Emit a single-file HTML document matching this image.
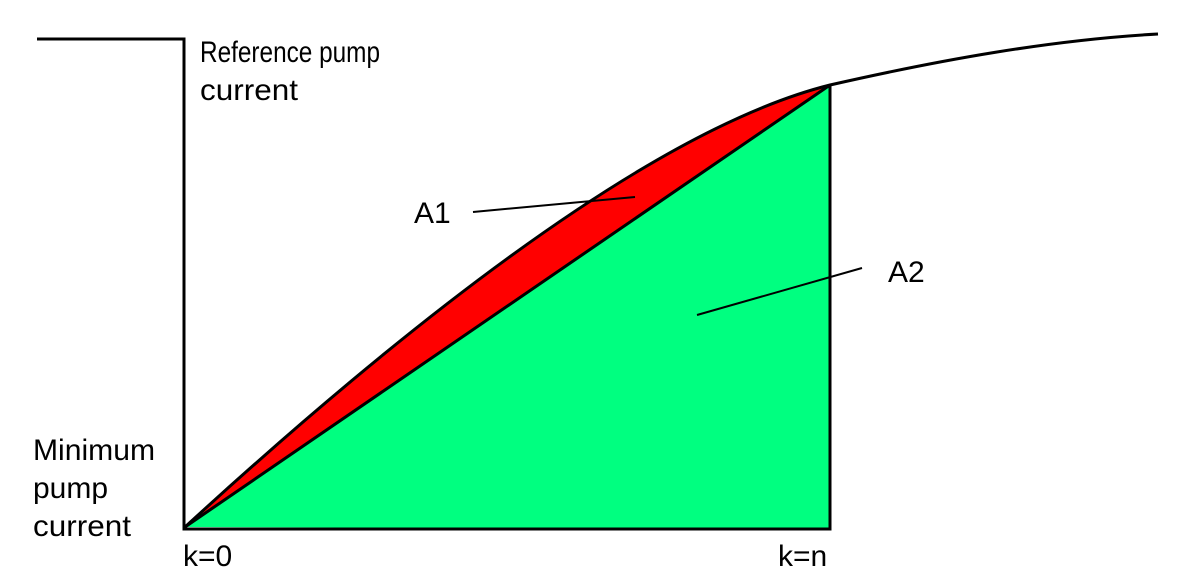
<!DOCTYPE html>
<html><head><style>html,body{margin:0;padding:0;background:#fff;}svg{display:block}</style></head>
<body>
<svg width="1178" height="584" viewBox="0 0 1178 584" xmlns="http://www.w3.org/2000/svg" font-family="Liberation Sans, Arial, sans-serif" font-size="30" fill="#000">
<rect width="1178" height="584" fill="#fff"/>
<polygon points="185,527 830,85 830,529" fill="#00ff80"/>
<path d="M185,527 C400,330 650,130 830,85 L185,527 Z" fill="#ff0000"/>
<path d="M185,527 L830,85" stroke="#000" stroke-width="3" fill="none"/>
<path d="M185,527 C400,330 650,130 830,85 C940,60 1050,40 1158,34" stroke="#000" stroke-width="3" fill="none"/>
<path d="M37,39 L184,39 L184,529 L830,529 L830,85" stroke="#000" stroke-width="3" fill="none"/>
<text x="200" y="62" textLength="180" lengthAdjust="spacingAndGlyphs">Reference pump</text>
<text x="200" y="100" textLength="98" lengthAdjust="spacingAndGlyphs">current</text>
<text x="33" y="460" textLength="122" lengthAdjust="spacingAndGlyphs">Minimum</text>
<text x="33" y="498">pump</text>
<text x="33" y="536" textLength="98" lengthAdjust="spacingAndGlyphs">current</text>
<text x="183" y="566">k=0</text>
<text x="778" y="566">k=n</text>
<text x="414" y="223">A1</text>
<text x="888" y="282">A2</text>
<path d="M473,212 L635,197" stroke="#000" stroke-width="2"/>
<path d="M697,315 L862,268" stroke="#000" stroke-width="2"/>
</svg>
</body></html>
